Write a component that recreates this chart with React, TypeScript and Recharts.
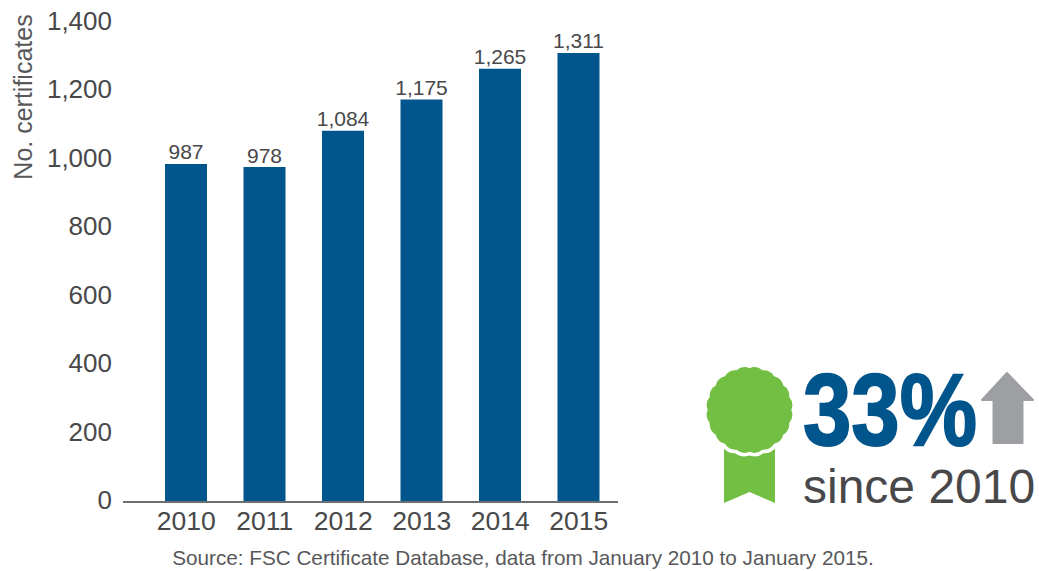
import { Bar, BarChart, LabelList, XAxis, YAxis } from "recharts";

const YEARS = ["2010", "2011", "2012", "2013", "2014", "2015"];
const CERTIFICATES = [987, 978, 1084, 1175, 1265, 1311];
const Y_TICKS = [0, 200, 400, 600, 800, 1000, 1200, 1400];

const DATA = YEARS.map((year, i) => ({ year, certificates: CERTIFICATES[i] }));

const BLUE = "#00558c";
const GREEN = "#72bf44";
const TEXT = "#48484a";
const FONT = "'Liberation Sans', Arial, sans-serif";

const fmt = (v: number) => v.toLocaleString("en-US");

// scalloped rosette outline for the badge
function rosette(cx: number, cy: number, r: number, n: number) {
  let d = "";
  for (let i = 0; i < n; i++) {
    const a0 = (i / n) * Math.PI * 2;
    const a1 = ((i + 0.5) / n) * Math.PI * 2;
    const a2 = ((i + 1) / n) * Math.PI * 2;
    if (i === 0) d += `M${cx + r * Math.cos(a0)} ${cy + r * Math.sin(a0)}`;
    const rc = r + 3.5;
    d += `Q${cx + rc * Math.cos(a1)} ${cy + rc * Math.sin(a1)} ${cx + r * Math.cos(a2)} ${cy + r * Math.sin(a2)}`;
  }
  return d + "Z";
}

export default function App() {
  const badge = rosette(749.5, 410, 41.8, 20);
  return (
    <div style={{ position: "absolute", left: 0, top: 0, width: 1039, height: 571, background: "#fff", overflow: "hidden" }}>
      <BarChart
        width={1039}
        height={571}
        data={DATA}
        margin={{ top: 22.5, right: 421, left: 0, bottom: 0 }}
        style={{ position: "absolute", left: 0, top: 0 }}
      >
        <XAxis
          dataKey="year"
          interval={0}
          padding={{ left: 24, right: 0 }}
          height={69}
          tickSize={0}
          tickMargin={9}
          axisLine={{ stroke: "#6d6e70", strokeWidth: 2 }}
          tick={{ fill: TEXT, fontSize: 26.5, fontFamily: FONT }}
        />
        <YAxis
          width={123}
          domain={[0, 1400]}
          ticks={Y_TICKS}
          interval={0}
          axisLine={false}
          tickLine={false}
          tickSize={0}
          tickMargin={11}
          tickFormatter={fmt}
          tick={{ fill: TEXT, fontSize: 26, fontFamily: FONT, dy: -2 }}
        />
        <Bar dataKey="certificates" fill={BLUE} barSize={42} isAnimationActive={false}>
          <LabelList
            dataKey="certificates"
            position="top"
            offset={4.5}
            formatter={fmt}
            style={{ fill: TEXT, fontSize: 21, fontFamily: FONT }}
          />
        </Bar>
      </BarChart>
      <svg width={1039} height={571} style={{ position: "absolute", left: 0, top: 0, pointerEvents: "none" }}>
        <text
          transform="translate(32 97) rotate(-90)"
          textAnchor="middle"
          fontSize={25}
          fontFamily={FONT}
          fill="#58585a"
        >
          No. certificates
        </text>
        <text x={523} y={565} textAnchor="middle" fontSize={20.7} fontFamily={FONT} fill="#58585a">
          Source: FSC Certificate Database, data from January 2010 to January 2015.
        </text>
        <path d="M724 440H775V503L749.5 492L724 503Z" fill={GREEN} />
        <path d={badge} fill="#fff" stroke="#fff" strokeWidth={7} />
        <path d={badge} fill={GREEN} />
        <text
          x={803}
          y={445}
          fontSize={102}
          fontWeight={700}
          fontFamily={FONT}
          fill={BLUE}
          stroke={BLUE}
          strokeWidth={2}
          textLength={174}
          lengthAdjust="spacingAndGlyphs"
        >
          33%
        </text>
        <path
          d="M1007 373L1033 400H1022.5V443H993.5V400H982Z"
          fill="#9d9fa2"
          stroke="#9d9fa2"
          strokeWidth={2}
          strokeLinejoin="round"
        />
        <text x={803} y={503} fontSize={48} fontFamily={FONT} fill={TEXT}>
          since 2010
        </text>
      </svg>
    </div>
  );
}
